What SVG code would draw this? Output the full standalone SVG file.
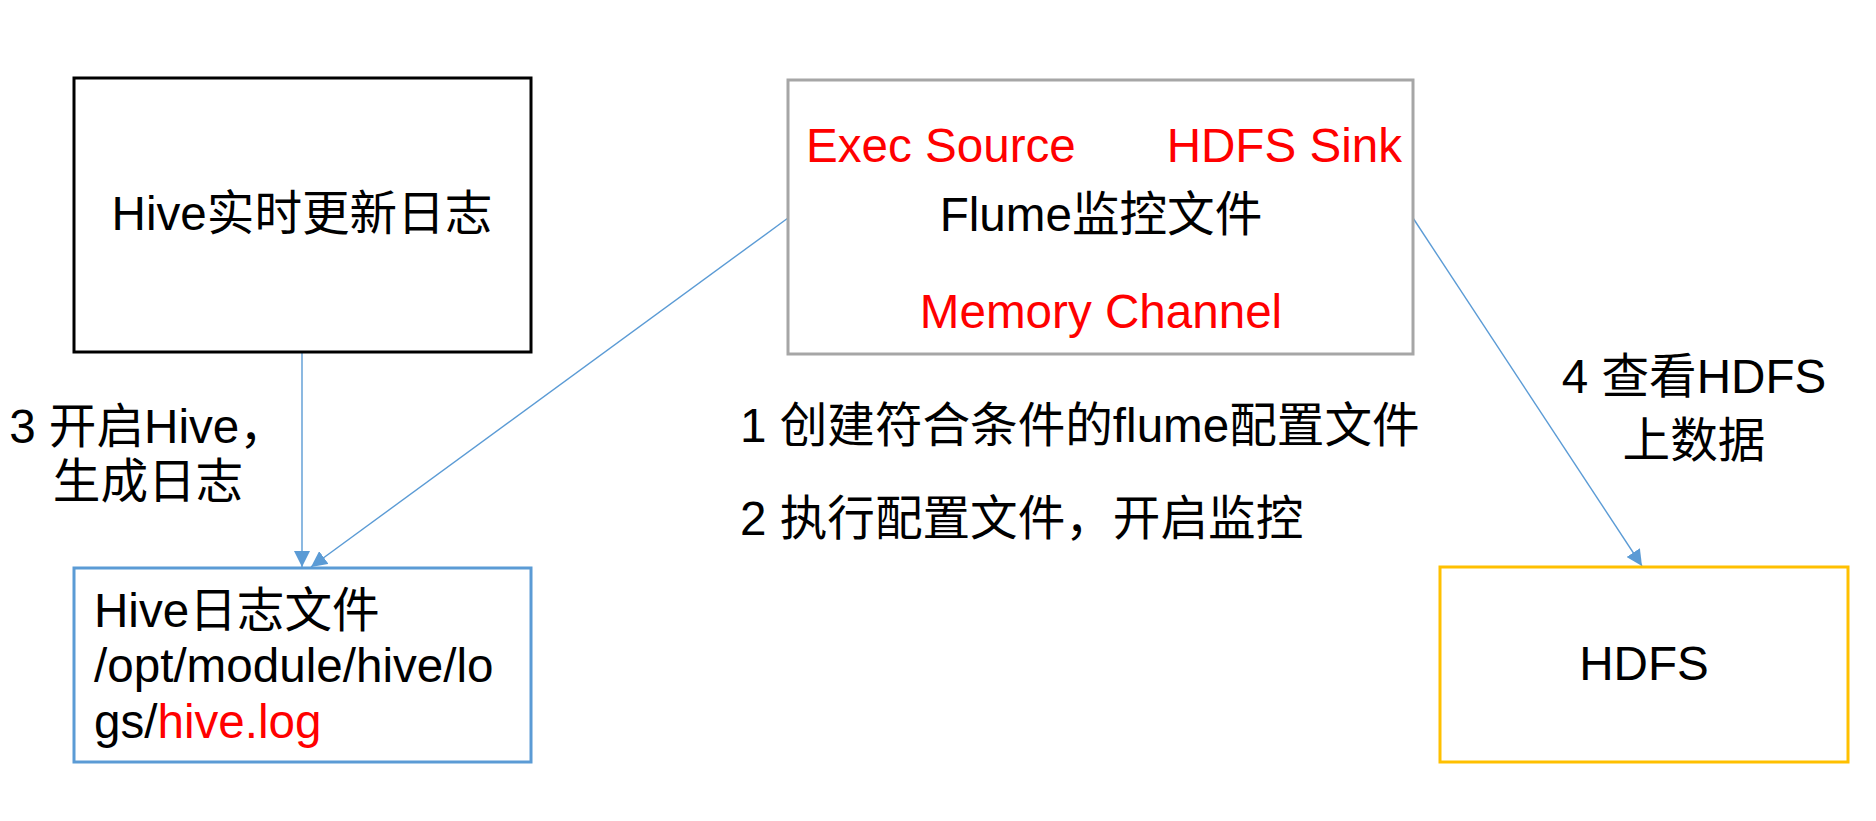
<svg xmlns="http://www.w3.org/2000/svg" width="1876" height="821" viewBox="0 0 1876 821">
<defs>
<style>
text{font-family:"Liberation Sans","Noto Sans CJK SC",Arial,sans-serif;font-size:47.6px;fill:#000}
.red{fill:#FF0000}
.box{fill:#fff;stroke-width:3}
.conn{stroke:#5B9BD5;stroke-width:1.4;fill:none}
</style>
<marker id="arr" viewBox="0 0 16 16" refX="16" refY="8" markerWidth="16" markerHeight="16" markerUnits="userSpaceOnUse" orient="auto">
<path d="M0,0 L16,8 L0,16 Z" fill="#5B9BD5"/>
</marker>
</defs>
<rect width="1876" height="821" fill="#fff"/>
<g id="connectors">
<line class="conn" x1="302" y1="353" x2="302" y2="567" marker-end="url(#arr)"/>
<line class="conn" x1="788" y1="218" x2="311" y2="567" marker-end="url(#arr)"/>
<line class="conn" x1="1413" y1="218" x2="1642" y2="566" marker-end="url(#arr)"/>
</g>
<g id="hive">
<rect class="box" x="74" y="78" width="457" height="274" stroke="#000"/>
<text x="302" y="230" text-anchor="middle">Hive实时更新日志</text>
</g>
<g id="flume">
<rect class="box" x="788" y="80" width="625" height="274" stroke="#A6A6A6"/>
<text class="red" x="806" y="162">Exec Source</text>
<text class="red" x="1402" y="162" text-anchor="end">HDFS Sink</text>
<text x="1101" y="231" text-anchor="middle">Flume监控文件</text>
<text class="red" x="1101" y="328" text-anchor="middle">Memory Channel</text>
</g>
<g id="hivelog">
<rect class="box" x="74" y="568" width="457" height="194" stroke="#5B9BD5"/>
<text x="94" y="627">Hive日志文件</text>
<text x="94" y="682">/opt/module/hive/lo</text>
<text x="94" y="738">gs/<tspan class="red">hive.log</tspan></text>
</g>
<g id="hdfs">
<rect class="box" x="1440" y="567" width="408" height="195" stroke="#FFC000"/>
<text x="1644" y="680" text-anchor="middle">HDFS</text>
</g>
<g id="labels">
<text x="148" y="443" text-anchor="middle">3 开启Hive，</text>
<text x="148" y="498" text-anchor="middle">生成日志</text>
<text x="740" y="442">1 创建符合条件的flume配置文件</text>
<text x="740" y="535">2 执行配置文件，开启监控</text>
<text x="1694" y="393" text-anchor="middle">4 查看HDFS</text>
<text x="1694" y="457" text-anchor="middle">上数据</text>
</g>
</svg>
